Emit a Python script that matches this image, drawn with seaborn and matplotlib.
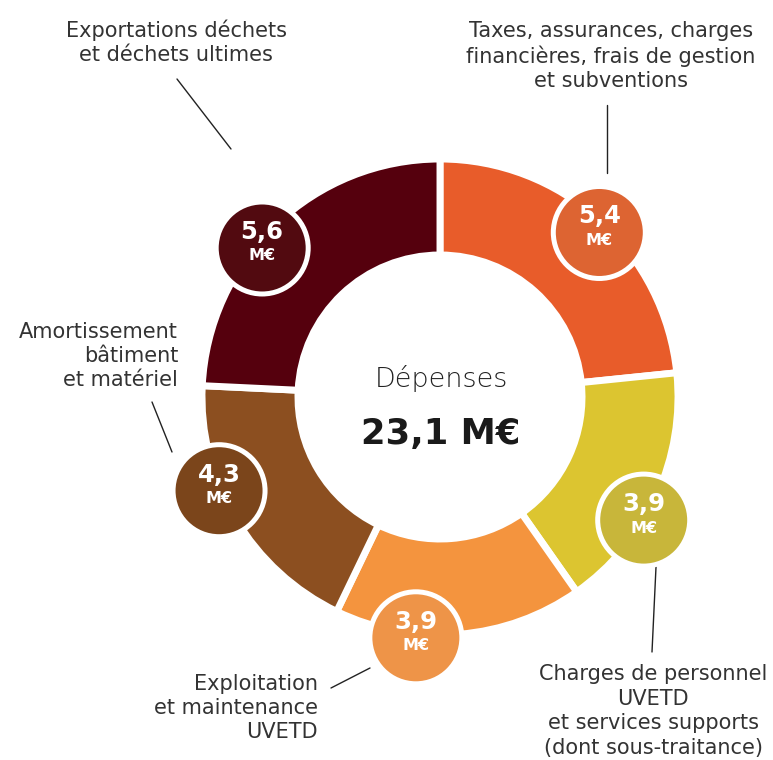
import numpy as np
import matplotlib
matplotlib.use("Agg")
import matplotlib.pyplot as plt
import seaborn as sns
from matplotlib.patches import Circle

# Expense breakdown (millions of euros), clockwise from the top
categories = [
    "Taxes, assurances, charges\nfinancières, frais de gestion\net subventions",
    "Charges de personnel\nUVETD\net services supports\n(dont sous-traitance)",
    "Exploitation\net maintenance\nUVETD",
    "Amortissement\nbâtiment\net matériel",
    "Exportations déchets\net déchets ultimes",
]
values = [5.4, 3.9, 3.9, 4.3, 5.6]
value_labels = ["5,4", "3,9", "3,9", "4,3", "5,6"]
unit_label = "M€"
center_title = "Dépenses"
total_label = "23,1 M€"

wedge_colors = ["#E85C2A", "#DCC530", "#F4943E", "#8C4F20", "#55000D"]
bubble_colors = ["#DD6432", "#C8B63A", "#EE9448", "#7B451B", "#520A10"]

sns.set_theme(style="white")
plt.rcParams["font.family"] = ["DejaVu Sans"]

W, H = 773, 760
fig = plt.figure(figsize=(W / 100, H / 100), dpi=100)
ax = fig.add_axes([0, 0, 1, 1])

cx, cy = 440, H - 397
R, ring = 238, 96

wedges, _ = ax.pie(
    values, colors=wedge_colors, startangle=90, counterclock=False,
    center=(cx, cy), radius=R,
    wedgeprops=dict(width=ring, edgecolor="white", linewidth=5),
)
ax.set_xlim(0, W)
ax.set_ylim(0, H)
ax.set_aspect("equal")
ax.axis("off")

# value bubbles sit on the ring, nudged along it
bubble_shift = [-2.0, -6.6, -10.4, -7.8, 6.4]
bubble_dist = [229, 238, 242, 240, 232]
for w, lab, col, sh, d in zip(wedges, value_labels, bubble_colors, bubble_shift, bubble_dist):
    mid = np.deg2rad((w.theta1 + w.theta2) / 2 + sh)
    bx, by = cx + d * np.cos(mid), cy + d * np.sin(mid)
    ax.add_patch(Circle((bx, by), 46, facecolor=col, edgecolor="white", lw=3.6, zorder=5))
    ax.text(bx, by + 16, lab, ha="center", va="center", color="white",
            fontsize=17.5, fontweight="bold", zorder=6)
    ax.text(bx, by - 8, unit_label, ha="center", va="center", color="white",
            fontsize=11.5, fontweight="bold", zorder=6)

# centre text
ax.text(cx + 1, H - 378, center_title, ha="center", va="center", color="#222222",
        fontsize=19.5, fontweight="light")
ax.text(cx + 1, H - 434, total_label, ha="center", va="center", color="#1A1A1A",
        fontsize=25.5, fontweight="heavy")

# category labels with leader lines
label_pos = [(611, 56, "center"), (653, 711, "center"), (318, 708, "right"),
             (178, 356, "right"), (176, 42, "center")]
leaders = [((607, 105), (607, 173)), ((656, 567), (652, 652)),
           ((331, 688), (370, 668)), ((152, 402), (172, 452)),
           ((177, 79), (231, 149))]
for text, (tx, ty, ha), ((x0, y0), (x1, y1)) in zip(categories, label_pos, leaders):
    ax.text(tx, H - ty, text, ha=ha, va="center", color="#333333",
            fontsize=15, linespacing=1.28, multialignment=ha)
    ax.plot([x0, x1], [H - y0, H - y1], color="#222222", lw=1.0, zorder=4)

fig.savefig("out.png", dpi=100)
